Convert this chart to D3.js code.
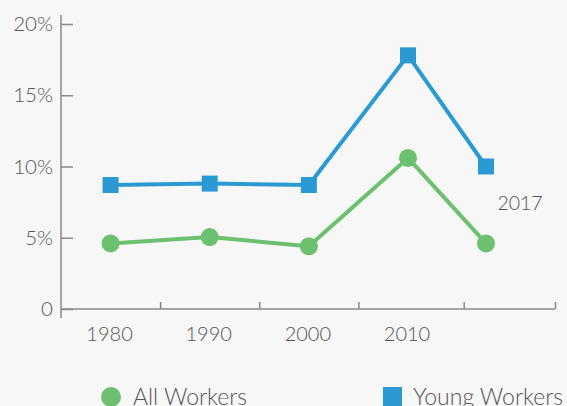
<!DOCTYPE html>
<html><head><meta charset="utf-8">
<script src="https://cdn.jsdelivr.net/npm/d3@7"></script>
<style>
html,body{margin:0;padding:0;background:#f7f7f7;}
svg{display:block;font-family:Lato,"Open Sans",sans-serif;}
</style></head>
<body><svg id="c" width="567" height="406"></svg>
<script>
const years = [1980, 1990, 2000, 2010, 2017];
const allWorkers = [4.6, 5.05, 4.4, 10.6, 4.6];
const youngWorkers = [8.7, 8.8, 8.7, 17.8, 10.0];
const xTickLabels = [1980, 1990, 2000, 2010];
const xTickMarks = [1985, 1995, 2005, 2015, 2025];
const yTicks = [0, 5, 10, 15, 20];
const seriesNames = ["All Workers", "Young Workers"];
const colors = ["#6cc070", "#2b9ad3"];

const svg = d3.select("#c");
const x = d3.scaleLinear().domain([1975, 2010, 2017, 2025]).range([61, 408, 486, 555]);
const y = d3.scaleLinear().domain([0, 20]).range([309, 24]);
const axisColor = "#8a8a8a", textColor = "#555";

// y axis
const ya = svg.append("g").attr("transform", "translate(61,0)")
  .call(d3.axisRight(y).tickValues(yTicks).tickSize(12).tickFormat(""));
ya.select(".domain").remove();
ya.selectAll("line").attr("stroke", axisColor).attr("stroke-width", 1.5);
svg.append("line").attr("x1", 61).attr("x2", 61).attr("y1", 15).attr("y2", 318)
  .attr("stroke", axisColor).attr("stroke-width", 1.5);
svg.selectAll(".ylab").data(yTicks).join("text").attr("class", "ylab")
  .attr("x", 53).attr("y", d => y(d)).attr("dy", "0.35em").attr("text-anchor", "end")
  .attr("font-size", 20.5).attr("fill", textColor).attr("font-weight", 300)
  .text(d => d === 0 ? "0" : d + "%");

// x axis
const xa = svg.append("g").attr("transform", "translate(0,309)")
  .call(d3.axisTop(x).tickValues(xTickMarks).tickSize(7).tickFormat(""));
xa.select(".domain").remove();
xa.selectAll("line").attr("stroke", axisColor).attr("stroke-width", 1.5);
svg.append("line").attr("x1", 61).attr("x2", 555).attr("y1", 309).attr("y2", 309)
  .attr("stroke", axisColor).attr("stroke-width", 1.5);
svg.selectAll(".xlab").data(xTickLabels).join("text").attr("class", "xlab")
  .attr("x", d => x(d) - 1).attr("y", 334).attr("dy", "0.35em").attr("text-anchor", "middle")
  .attr("font-size", 20).attr("fill", textColor).attr("font-weight", 300).text(d => d);

svg.append("text").attr("x", 520).attr("y", 203).attr("dy", "0.35em").attr("text-anchor", "middle")
  .attr("font-size", 19.5).attr("fill", textColor).attr("font-weight", 300).text(years[4]);

const line = d3.line().x((d, i) => x(years[i])).y(d => y(d));
[allWorkers, youngWorkers].forEach((s, k) => {
  svg.append("path").datum(s).attr("d", line).attr("fill", "none")
    .attr("stroke", colors[k]).attr("stroke-width", 4).attr("stroke-linejoin", "round");
});
svg.selectAll(".pt").data(allWorkers).join("circle").attr("class", "pt")
  .attr("cx", (d, i) => x(years[i])).attr("cy", d => y(d)).attr("r", 9).attr("fill", colors[0]);
svg.selectAll(".sq").data(youngWorkers).join("rect").attr("class", "sq")
  .attr("x", (d, i) => x(years[i]) - 8).attr("y", d => y(d) - 8).attr("width", 16).attr("height", 16)
  .attr("fill", colors[1]);

// legend
svg.append("circle").attr("cx", 111).attr("cy", 397).attr("r", 10).attr("fill", colors[0]);
svg.append("text").attr("x", 133).attr("y", 397).attr("dy", "0.35em").attr("font-size", 23)
  .attr("fill", textColor).attr("font-weight", 300).text(seriesNames[0]);
svg.append("rect").attr("x", 383).attr("y", 387).attr("width", 19).attr("height", 19).attr("fill", colors[1]);
svg.append("text").attr("x", 413).attr("y", 397).attr("dy", "0.35em").attr("font-size", 23)
  .attr("fill", textColor).attr("font-weight", 300).text(seriesNames[1]);
</script></body></html>
